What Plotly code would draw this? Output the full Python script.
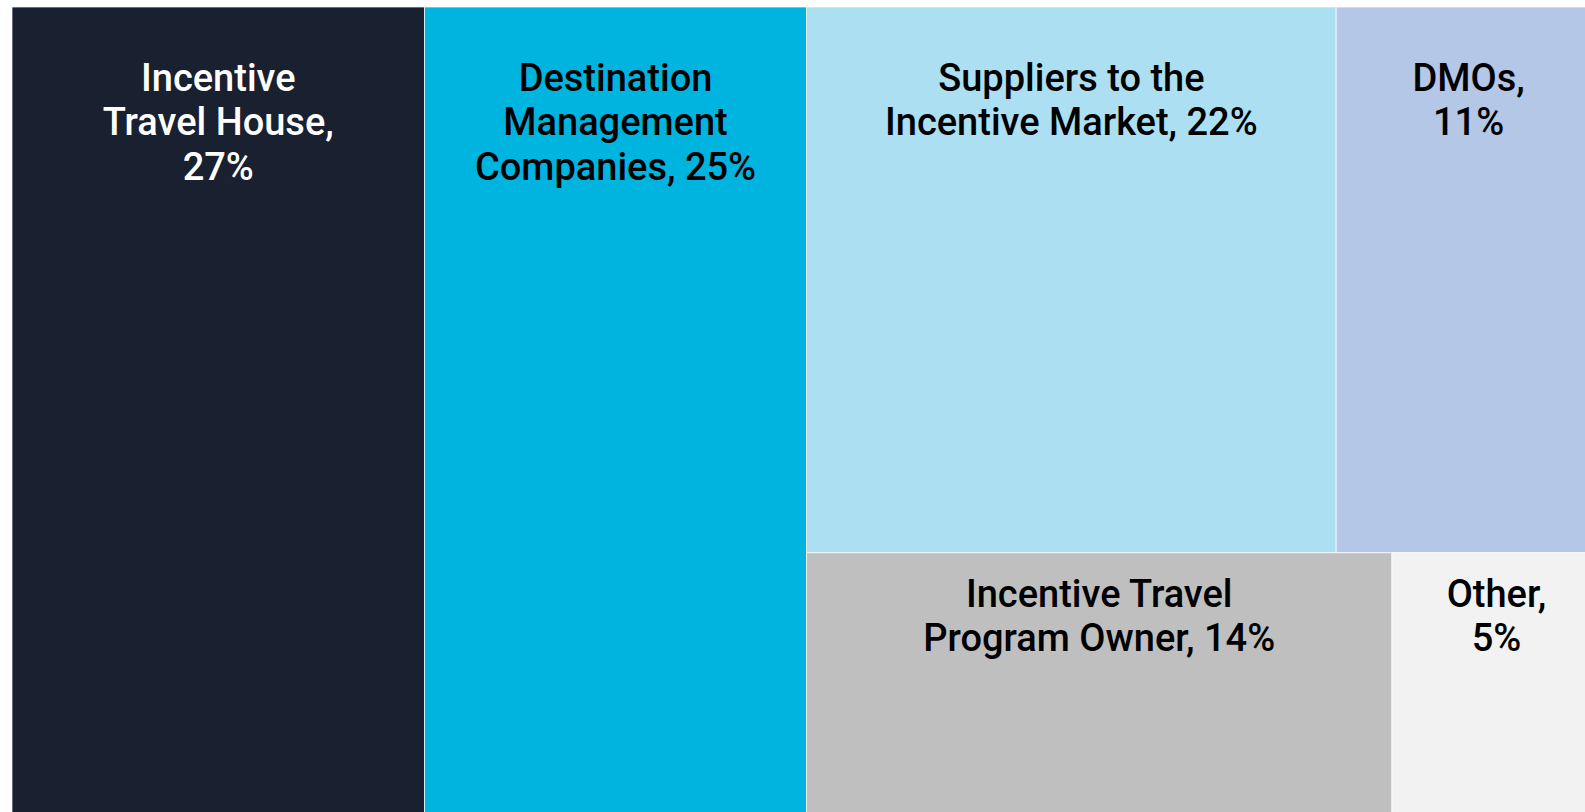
import plotly.graph_objects as go

# ---- data ----
categories = [
    "Incentive Travel House",
    "Destination Management Companies",
    "Suppliers to the Incentive Market",
    "DMOs",
    "Incentive Travel Program Owner",
    "Other",
]
values = [27, 25, 22, 11, 14, 5]
tile_text = [
    "Incentive<br>Travel House,<br>27%",
    "Destination<br>Management<br>Companies, 25%",
    "Suppliers to the<br>Incentive Market, 22%",
    "DMOs,<br>11%",
    "Incentive Travel<br>Program Owner, 14%",
    "Other,<br>5%",
]
# row grouping of the right-hand block (layout structure only)
row_group = ["", "", "top", "top", "bottom", "bottom"]
colors = ["#19202F", "#00B4E0", "#ABDFF1", "#B4C7E7", "#BFBFBF", "#F2F2F2"]
text_colors = ["#FFFFFF", "#000000", "#000000", "#000000", "#000000", "#000000"]

# ---- build hierarchy for plotly (order matters for slice-dice) ----
ids = ["all"]
parents = [""]
labels = [""]
vals = [0]
texts = [""]
mcolors = ["#FFFFFF"]
tcolors = ["#000000"]


def add_node(i, p, lab, v, t, c, tc):
    ids.append(i)
    parents.append(p)
    labels.append(lab)
    vals.append(v)
    texts.append(t)
    mcolors.append(c)
    tcolors.append(tc)


GLYPH_SIZE = 38
top_spacer = '<span style="font-size:40px">\u00a0</span><br>'
bottom_spacer = '<span style="font-size:8px">\u00a0</span><br>'


def styled(t):
    return "<br>".join(
        '<span style="font-size:%dpx">%s</span>' % (GLYPH_SIZE, line) for line in t.split("<br>")
    )


seen_groups = set()
for cat, v, t, g, c, tc in zip(categories, values, tile_text, row_group, colors, text_colors):
    if g and g not in seen_groups:
        if "right" not in seen_groups:
            add_node("right", "all", "", 0, "", "#FFFFFF", "#000000")
            seen_groups.add("right")
        add_node(g, "right", "", 0, "", "#FFFFFF", "#000000")
        seen_groups.add(g)
    spacer = bottom_spacer if g == "bottom" else top_spacer
    add_node(cat, g if g else "all", cat, v, spacer + styled(t), c, tc)

fig = go.Figure(
    go.Treemap(
        ids=ids,
        labels=labels,
        parents=parents,
        values=vals,
        branchvalues="remainder",
        text=texts,
        textinfo="text",
        textposition="top center",
        sort=False,
        tiling=dict(packing="slice-dice", pad=0),
        pathbar=dict(visible=False),
        marker=dict(
            colors=mcolors,
            line=dict(color="rgba(255,255,255,0.7)", width=1),
            pad=dict(t=0, l=0, r=0, b=0),
            depthfade=False,
        ),
        textfont=dict(family="Roboto", size=34, weight=500, color=tcolors),
        hoverinfo="label+value",
    )
)

fig.update_layout(
    width=1601,
    height=867,
    margin=dict(l=12, r=0, t=7, b=0),
    paper_bgcolor="#FFFFFF",
    font=dict(family="Roboto"),
    showlegend=False,
)

fig.write_html(
    "out.html",
    config={"displayModeBar": False},
    post_script=(
        "document.body.style.margin='0';"
        "document.body.style.overflow='hidden';"
        "document.documentElement.style.overflow='hidden';"
    ),
)
